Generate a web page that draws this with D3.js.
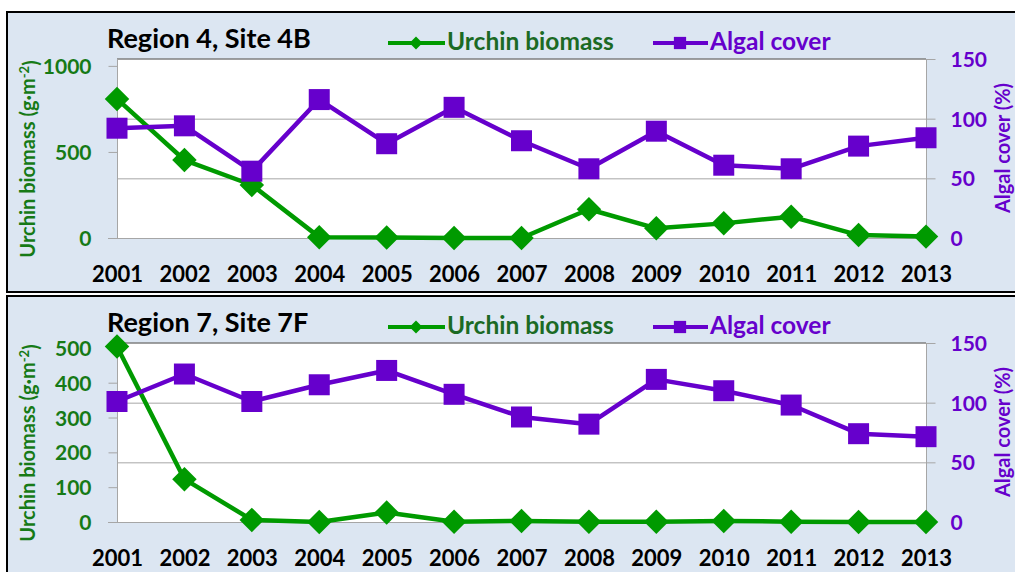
<!DOCTYPE html>
<html>
<head>
<meta charset="utf-8">
<script src="https://cdn.jsdelivr.net/npm/d3@7/dist/d3.min.js"></script>
<style>
  html, body { margin: 0; padding: 0; background: #ffffff; }
  svg { display: block; }
  text { font-family: "Lato", "Liberation Sans", sans-serif; font-weight: bold; }
</style>
</head>
<body>
<svg id="chart" width="1015" height="572"></svg>
<script>
// Survey years shared by both sites
const years = ["2001", "2002", "2003", "2004", "2005", "2006", "2007",
               "2008", "2009", "2010", "2011", "2012", "2013"];

// Region 4, Site 4B
const urchin4B = [808, 453, 308, 5, 3, 0, 0, 167, 56, 85, 124, 17, 8];
const algal4B  = [92, 94, 56, 116, 79, 109.5, 81.5, 58, 89.5, 61, 58, 77, 84];

// Region 7, Site 7F
const urchin7F = [504, 123, 6, 0, 27, 1, 3, 1, 1, 3, 1, 0, 0];
const algal7F  = [101, 124, 101, 115, 127, 107, 88, 82, 119.5, 110, 98, 74, 71.5];

// Axis tick values
const urchinTicks4B = [0, 500, 1000];
const urchinTicks7F = [0, 100, 200, 300, 400, 500];
const algalTicks    = [0, 50, 100, 150];

const panels = [
  { title: "Region 4, Site 4B", urchin: urchin4B, algal: algal4B,
    urchinTicks: urchinTicks4B, urchinMax: 1040, top: 0 },
  { title: "Region 7, Site 7F", urchin: urchin7F, algal: algal7F,
    urchinTicks: urchinTicks7F, urchinMax: 514, top: 284 }
];

const GREEN = "#009a00";
const GREEN_TEXT = "#167a16";
const GREEN_DARK = "#1b6a24";
const PURPLE = "#6600cc";
const BG = "#dce6f2";
const GRID = "#a6a6a6";

const svg = d3.select("#chart");

// Panel frames
svg.append("rect").attr("x", 7).attr("y", 12).attr("width", 1030).attr("height", 280)
  .attr("fill", BG).attr("stroke", "#000").attr("stroke-width", 2);
svg.append("rect").attr("x", 7).attr("y", 296).attr("width", 1030).attr("height", 300)
  .attr("fill", BG).attr("stroke", "#000").attr("stroke-width", 2);

const plotLeft = 117, plotRight = 926, plotTop = 59, plotBottom = 238;

const x = d3.scalePoint().domain(years).range([plotLeft, plotRight]);

const diamond = size => d3.symbol().type(d3.symbolSquare).size(size)();
const square = size => d3.symbol().type(d3.symbolSquare).size(size)();

panels.forEach(p => {
  const g = svg.append("g").attr("transform", `translate(0,${p.top})`);

  const yL = d3.scaleLinear().domain([0, p.urchinMax]).range([plotBottom, plotTop]);
  const yR = d3.scaleLinear().domain([0, 150]).range([plotBottom, plotTop]);

  // Plot area
  g.append("rect").attr("x", plotLeft).attr("y", plotTop)
    .attr("width", plotRight - plotLeft).attr("height", plotBottom - plotTop)
    .attr("fill", "#fff");

  // Gridlines from the algal (right) axis
  g.append("g").selectAll("line").data(algalTicks.filter(t => t > 0 && t < 150)).join("line")
    .attr("x1", plotLeft).attr("x2", plotRight)
    .attr("y1", d => yR(d) + 0.5).attr("y2", d => yR(d) + 0.5)
    .attr("stroke", GRID).attr("stroke-width", 1);

  // Plot area border top
  g.append("line").attr("x1", plotLeft).attr("x2", plotRight)
    .attr("y1", plotTop).attr("y2", plotTop)
    .attr("stroke", "#7f7f7f").attr("stroke-width", 1.5);

  // Left axis
  const axL = d3.axisLeft(yL).tickValues(p.urchinTicks).tickSize(9).tickPadding(17)
    .tickFormat(d3.format("d"));
  const gL = g.append("g").attr("transform", `translate(${plotLeft + 0.5},0)`).call(axL);
  gL.select(".domain").attr("stroke", GRID).attr("d", `M0,${plotTop}V${plotBottom}`);
  gL.selectAll(".tick line").attr("stroke", GRID);
  gL.selectAll(".tick text").attr("fill", GREEN_TEXT)
    .style("font-size", "21px").style("font-weight", "bold").attr("dy", "0.36em");

  // Right axis
  const axR = d3.axisRight(yR).tickValues(algalTicks).tickSize(9).tickPadding(15);
  const gR = g.append("g").attr("transform", `translate(${plotRight + 0.5},0)`).call(axR);
  gR.select(".domain").attr("stroke", GRID).attr("d", `M0,${plotTop}V${plotBottom}`);
  gR.selectAll(".tick line").attr("stroke", GRID);
  gR.selectAll(".tick text").attr("fill", PURPLE)
    .style("font-size", "21px").style("font-weight", "bold").attr("dy", "0.36em");

  // Bottom axis (years)
  const axB = d3.axisBottom(x).tickSize(0).tickPadding(0);
  const gB = g.append("g").attr("transform", `translate(0,${plotBottom + 0.5})`).call(axB);
  gB.select(".domain").attr("stroke", GRID).attr("d", `M${plotLeft - 9},0H${plotRight}`);
  gB.selectAll(".tick text").attr("fill", "#000")
    .style("font-size", "22px").style("font-weight", "bold")
    .attr("y", 43.5).attr("dy", 0);

  // Urchin biomass series
  const lineL = d3.line().x((d, i) => x(years[i])).y(d => yL(d));
  g.append("path").datum(p.urchin).attr("d", lineL)
    .attr("fill", "none").attr("stroke", GREEN).attr("stroke-width", 4.5)
    .attr("stroke-linejoin", "round");
  g.append("g").selectAll("path").data(p.urchin).join("path")
    .attr("d", diamond(300))
    .attr("transform", (d, i) => `translate(${x(years[i])},${yL(d)}) rotate(45)`)
    .attr("fill", GREEN);

  // Algal cover series
  const lineR = d3.line().x((d, i) => x(years[i])).y(d => yR(d));
  g.append("path").datum(p.algal).attr("d", lineR)
    .attr("fill", "none").attr("stroke", PURPLE).attr("stroke-width", 4.5)
    .attr("stroke-linejoin", "round");
  g.append("g").selectAll("path").data(p.algal).join("path")
    .attr("d", square(441))
    .attr("transform", (d, i) => `translate(${x(years[i])},${yR(d)})`)
    .attr("fill", PURPLE);

  // Title
  g.append("text").attr("x", 107).attr("y", 48).attr("fill", "#000")
    .style("font-size", "27px").text(p.title);

  // Legend
  const lg = g.append("g");
  lg.append("line").attr("x1", 388).attr("x2", 445).attr("y1", 43).attr("y2", 43)
    .attr("stroke", GREEN).attr("stroke-width", 4);
  lg.append("path").attr("d", diamond(85))
    .attr("transform", "translate(416,43) rotate(45)").attr("fill", GREEN);
  lg.append("text").attr("x", 447).attr("y", 50).attr("fill", GREEN_DARK)
    .style("font-size", "24.5px").text("Urchin biomass");
  lg.append("line").attr("x1", 653).attr("x2", 708).attr("y1", 43).attr("y2", 43)
    .attr("stroke", PURPLE).attr("stroke-width", 4);
  lg.append("path").attr("d", square(150))
    .attr("transform", "translate(680,43)").attr("fill", PURPLE);
  lg.append("text").attr("x", 710).attr("y", 50).attr("fill", PURPLE)
    .style("font-size", "24.5px").text("Algal cover");

  // Axis titles
  const lt = g.append("text").attr("transform", "translate(35,159) rotate(-90)")
    .attr("text-anchor", "middle").attr("fill", GREEN_TEXT)
    .style("font-size", "20px");
  lt.append("tspan").text("Urchin biomass (g·m");
  lt.append("tspan").attr("dy", "-0.45em").style("font-size", "13px").text("-2");
  lt.append("tspan").attr("dy", "0.45em").text(")");

  g.append("text").attr("transform", "translate(1010,148) rotate(-90)")
    .attr("text-anchor", "middle").attr("fill", PURPLE)
    .style("font-size", "20px").text("Algal cover (%)");
});
</script>
</body>
</html>
